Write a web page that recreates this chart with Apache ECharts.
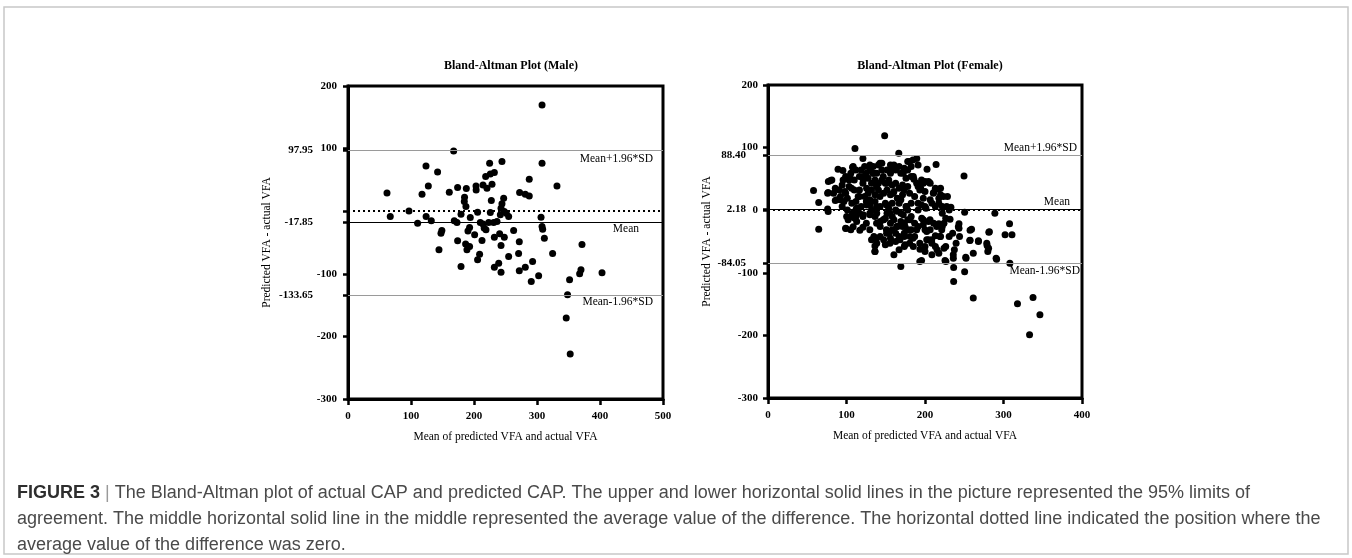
<!DOCTYPE html>
<html>
<head>
<meta charset="utf-8">
<title>Bland-Altman Plot</title>
<script src="https://cdn.jsdelivr.net/npm/echarts@6/dist/echarts.min.js"></script>
<style>
  html, body { margin: 0; padding: 0; background: #fff; }
  #chart { width: 1352px; height: 558px; }
</style>
</head>
<body>
<div id="chart"></div>
<script>
// [mean of predicted and actual VFA, predicted - actual VFA]
const malePoints = [
  [308,169.7],[167.7,96.3],[123.8,72.3],[142.2,62.8],[127.5,40.4],[117.5,27.1],[61.9,29.2],[67.1,-8.5],
  [96.8,0.5],[110.5,-19.2],[124,-8.5],[132.2,-15.4],[147.6,-35.1],[149,-31],[144.4,-61.7],[160.8,30.3],
  [174,37.7],[187.8,36.1],[203.2,40.4],[203.4,34],[214.3,42],[220.6,36.7],[218.5,55.3],[225.9,59.5],
  [232.3,61.7],[228.6,43],[224.8,76.6],[244.4,79.2],[185,22.4],[187.2,7.4],[184.6,15.3],[179.4,-4.8],
  [168.7,-15.4],[173,-18],[194.1,-10],[193,-26],[201,-37.6],[205.7,-1.6],[210,-18],[214.3,-20.6],
  [219,-29.7],[212.7,-46.9],[227.5,17],[225.9,-2.1],[223.3,-18],[231.2,-18],[236.5,-16.5],[241.8,-5.8],
  [244.4,11.8],[247.1,20.8],[248.1,-0.5],[251.3,-3.2],[255,-8.5],[240.7,-36],[232.3,-41.8],[248.1,-41.8],
  [242.9,-54.9],[174,-47.4],[186.7,-52.2],[193,-56.5],[188.8,-61.7],[208.9,-68.6],[205.7,-77.7],[179.4,-88.4],
  [232.3,-89.5],[239.2,-83.1],[242.9,-97.4],[255,-72.4],[262.9,-31],[271.9,-49],[270.8,-67.7],[271.9,-95.3],
  [281.4,-89.5],[293,-80.4],[290.9,-112.3],[302.6,-103.2],[272.4,29.7],[281.4,27],[287.7,24.4],[287.7,50.9],
  [308,76.6],[331.7,40.4],[306.4,-9.6],[308,-24.5],[309,-28.7],[311.7,-43.1],[324.8,-67.7],[371.4,-53.3],
  [369.8,-93.7],[367.7,-100],[351.7,-109.6],[403.2,-98.4],[348.5,-133.5],[346.4,-170.7],[352.7,-228.2],
  [190.4,-31.6],[216.1,-27],[242.9,4.6]
];

const femalePoints = [
  [148.6,119.1],[110.8,98.4],[166.6,91],[120.9,82.4],[189.5,82.4],[180.4,77.7],[214.1,72.9],[202.6,65.4],
  [249.7,54.8],[89.2,65.4],[95.4,63.3],[107.7,68.6],[58,31.4],[64.6,12.2],[64.6,-30.3],[76,27.1],
  [76.9,45.7],[81.3,48.4],[76,2.1],[90.8,32.4],[85.7,15.4],[98.9,27.1],[100.2,-10.1],[98.9,-28.7],
  [105.5,-31.4],[113,-18.1],[120.9,-27.1],[112,0.5],[106.8,11.2],[134.9,-42],[136.3,-66],[149.5,-55.3],
  [160.4,-71.3],[169.2,-89.9],[162.6,-50],[173.6,-58],[186.8,-42],[193.4,-81.9],[195.6,-80.3],[200,-66],
  [208.8,-71.3],[213.2,-58],[219.8,-42],[222,-26.1],[235.2,-36.7],[237.4,-63.3],[236,-71.3],[225.5,-80.3],
  [236.5,-91.5],[236.5,-113.8],[250.5,-98.4],[251.9,-75],[261.5,-68.6],[261.5,-140.4],[257.1,-48.4],[259.3,-30.3],
  [268.1,-48.9],[279.1,-56.4],[280,-66],[281.3,-35.1],[291.2,-78.2],[289,-4.8],[250.5,-3.2],[243.3,-21.8],
  [243.3,-28.7],[307.7,-21.8],[302,-39.4],[310.8,-39.4],[308.1,-84.6],[317.8,-149.5],[337.6,-139.4],[346.4,-167],
  [333.2,-198.9],[230.8,0.5],[233,4.8],[228.6,21.8],[217.6,19.1],[219.8,35.1],[211,28.2],[204.4,45.7],
  [197.8,43.1],[193.4,32.4],[185.9,49.5],[182.4,69.7],[182.4,53.7],[175.8,51.1],[191.2,11.2],[195.6,8.5],
  [200,5.9],[204.4,-18.1],[211,-20.7],[217.6,-21.8],[206.6,-31.4],[213.2,-41],[224.2,-20.7],[197.8,-15.4],
  [191.2,-26.1],[182.4,-31.4],[178,-15.4],[171.4,-26.1],[164.8,-26.1],[156,-20.7],[150.8,-31.4],[142.9,-42],
  [142.9,-26.1],[136.3,-10.1],[129.7,-4.8],[149.5,-12.8],[158.2,-10.1],[169.2,-4.8],[178,0.5],[173.6,-42],
  [180.4,-52.7],[156,-44.7],[167,-63.3],[175.8,5.9],
  [116.5,32.4],[120.9,43.1],[125.3,59],[129.7,64.4],[134,69.7],[140.7,72.3],[145,75],[138.5,59],
  [145,64.4],[151.6,64.4],[156,59],[162.6,64.4],[169.2,59],[173.6,67],[116.5,53.7],[109.9,48.4],
  [103.3,48.4],[103.3,37.8],[109.9,32.4],[116.5,21.8],[123.1,21.8],[127.5,27.1],[131.9,43.1],[136.3,48.4],
  [140.7,43.1],[145,48.4],[149.5,43.1],[153.8,48.4],[158.2,40.4],[162.6,43.1],[167,35.1],[171.4,40.4],
  [131.9,32.4],[136.3,24.5],[140.7,32.4],[147.3,27.1],[151.6,32.4],[156,24.5],[160.4,29.8],[164.8,19.1],
  [171.4,24.5],[125.3,13.8],[129.7,8.5],[136.3,13.8],[142.9,5.9],[149.5,11.2],[153.8,3.2],[158.2,11.2],
  [162.6,0.5],[167,11.2],[118.7,5.9],[112,13.8],[101.1,19.1],[96.7,13.8],[92.3,21.8],[131.9,0.5],
  [138.5,-4.8],[191.2,0.5],[182.4,11.2],[186.8,21.8],[180.4,27.1],[191.2,37.8],[200,29.8],[206.6,16.5],
  [213.2,5.9],[222,-4.8],[226.4,-12.8],[178,37.8],[173.6,32.4],[169.2,16.5],[151.6,-4.8],[160.4,-15.4],
  [169.2,-18.1],[173.6,-20.7],[182.4,-10.1],[186.8,-20.7],[200,-31.4],[204.4,-47.3],[208.8,-52.7],[215.4,-63.3],
  [217.6,-68.6],[226.4,-58],[239.6,-52.7],[244,-42],[230.8,-42],[173.6,-36.7],[167,-42],[184.6,-44.7],
  [193.4,-52.7],[200,-58],[202.2,-47.3],[178,-31.4],[120.9,-10.1],[125.3,-20.7],[129.7,-31.4],[131.9,-47.3],
  [138.5,-52.7],[147.3,-47.3],[153.8,-36.7],[158.2,-31.4],[162.6,-36.7],[147.3,-15.4],[142.9,-18.1],[116.5,-4.8],
  [112,-10.1],[107.7,-4.8],[101.1,0.5],[94.5,5.9],[83.5,27.1],[85.7,35.1],[94.5,40.4],[98.9,53.7],
  [105.5,59],[112,64.4],[118.7,64.4],[123.1,69.7],[134,59],[127.5,51.1],[120.9,53.7],[156,72.3],
  [160.4,72.3],[167,69.7],[178,64.4],[178,77.7],[184.6,80.3],[191.2,72.3],[195.6,48.4],[206.6,43.1],
  [213.2,35.1],[219.8,24.5],[208.8,11.2],[217.6,11.2],[222,5.9],
  [79.6,47.3],[76.6,28.1],[76.6,-2.2],[87.3,16.5],[99.2,-29.3],[108.5,-26.6],[117,-31.9],[104.3,-11.2],
  [138.3,-44.7],[136.2,-57],[136.2,-66],[224.2,-60.6],[236.1,-76.6],[226.6,-81.9],[252.3,-76.6],[268,-50],
  [257.4,-32],[242.5,-26.6],[257.4,-48],[282,-34.6],[281,-60.6],[290.6,-76.6],[278.7,-52.7],[231.9,-14.4],
  [227.7,5.8],[223.4,21.8],[217,33.5],[210.6,27.1],[205.5,44.1],[200,45.7],[194.5,35.1],[189.4,43.1],
  [185.1,53.7],[172.3,59],[197.8,19.1],[201.2,3.2],[195.8,-12.8],[197.8,-23.4],[206.4,-15.4],[214.9,-26.1],
  [221.3,-31.4],[219.1,-42],[208.5,-47.3],[202.2,-34.1],[189.4,-31.4],[180.9,-42],[168.1,-47.3],[174.5,-55.3],
  [185.1,-58],[193.6,-62.2],[155.3,-52.7],[151.1,-36.7],[163.9,-26.1],[174.5,-26.1],[180.9,-15.4],[172.3,-7.4],
  [163.9,-1.6],[155.3,-4.8],[146.8,-15.4],[138.3,-20.7],[129.8,-7.4],[121.3,-7.4],[112.8,3.2],[102.1,-15.4],
  [110.6,-12.8],[91.5,16.5],[97.9,29.8],[95.7,48.4],[104.3,53.7],[108.5,69.7],[129.8,72.3],[142.6,75],
  [155.3,64.4],[146.8,53.7],[134,59],[121.3,48.4],[125.6,35.1],[138.3,37.8],[151.1,43.1],[159.5,27.1],
  [142.6,21.8],[129.8,16.5],[114.9,21.8],[106.4,35.1],[168.1,16.5],[176.6,5.8],[151.1,8.5],[138.3,5.8],
  [125.6,8.5]
];

// upper limit, mean difference, lower limit
const maleLimits = [97.95, -17.85, -133.65];
const femaleLimits = [88.40, 2.18, -84.05];

const yTicks = [-300, -200, -100, 0, 100, 200];
const maleYLabels = [-300, -200, -100, 100, 200];
const femaleYLabels = [-300, -200, -100, 0, 100, 200];

const titles = ['Bland-Altman Plot (Male)', 'Bland-Altman Plot (Female)'];
const xName = 'Mean of predicted VFA and actual VFA';
const yName = 'Predicted VFA - actual VFA';
const limitNames = ['Mean+1.96*SD', 'Mean', 'Mean-1.96*SD'];

const caption =
  '{b|FIGURE 3} {s||} The Bland-Altman plot of actual CAP and predicted CAP. The upper and lower horizontal solid lines in the picture represented the 95% limits of\n' +
  'agreement. The middle horizontal solid line in the middle represented the average value of the difference. The horizontal dotted line indicated the position where the\n' +
  'average value of the difference was zero.';

const serif = '"Liberation Serif", "Times New Roman", serif';
const sans = '"Liberation Sans", Arial, Helvetica, sans-serif';

function xAxisFor(gridIndex, max) {
  return {
    type: 'value', gridIndex: gridIndex, min: 0, max: max, interval: 100,
    name: xName, nameLocation: 'middle', nameGap: 32,
    nameTextStyle: { fontFamily: serif, fontSize: 11.5, color: '#000' },
    axisLine: { show: true, onZero: false, lineStyle: { color: '#000', width: 3 } },
    axisTick: { show: true, length: 6, lineStyle: { color: '#000', width: 2.5 } },
    axisLabel: { fontFamily: serif, fontWeight: 'bold', fontSize: 11, color: '#000', margin: 12 },
    splitLine: { show: false }
  };
}

function yAxisFor(gridIndex, limits, labels, nameGap, margin) {
  return {
    type: 'value', gridIndex: gridIndex, min: -300, max: 200, interval: 100, position: 'left',
    name: yName, nameLocation: 'middle', nameRotate: 90, nameGap: nameGap,
    nameTextStyle: { fontFamily: serif, fontSize: 11.5, color: '#000' },
    axisLine: { show: true, onZero: false, lineStyle: { color: '#000', width: 3 } },
    axisTick: { show: true, length: 5, customValues: yTicks.concat(limits), lineStyle: { color: '#000', width: 2.5 } },
    axisLabel: { customValues: labels, fontFamily: serif, fontWeight: 'bold', fontSize: 11, color: '#000', margin: margin },
    splitLine: { show: false }
  };
}

// second axis on the same side, only for the limit values
function limitAxisFor(gridIndex, limits, margin) {
  return {
    type: 'value', gridIndex: gridIndex, min: -300, max: 200, position: 'left', offset: 0,
    axisLine: { show: false }, axisTick: { show: false }, splitLine: { show: false },
    axisLabel: {
      customValues: limits, formatter: function (v) { return v.toFixed(2); },
      fontFamily: serif, fontWeight: 'bold', fontSize: 11, color: '#000', margin: margin
    }
  };
}

function limitLines(limits, labelPos) {
  const styles = [
    { color: '#9a9a9a', width: 1, type: 'solid' },
    { color: '#000', width: 1, type: 'solid' },
    { color: '#9a9a9a', width: 1, type: 'solid' }
  ];
  const lines = limits.map(function (v, i) {
    return {
      yAxis: v,
      lineStyle: styles[i],
      label: {
        show: true, formatter: limitNames[i], position: labelPos[i].pos,
        distance: labelPos[i].dist, padding: [0, labelPos[i].pad, 0, 0],
        fontFamily: serif, fontSize: 11.5, color: '#000'
      }
    };
  });
  lines.push({ yAxis: 0, lineStyle: { color: '#000', width: 2, type: [2, 3] }, label: { show: false } });
  return lines;
}

const maleLabelPos = [
  { pos: 'insideEndBottom', dist: 3, pad: 7 },
  { pos: 'insideEndBottom', dist: 1, pad: 23 },
  { pos: 'insideEndBottom', dist: 1, pad: 9 }
];
const femaleLabelPos = [
  { pos: 'insideEndTop', dist: 1, pad: 4 },
  { pos: 'insideEndTop', dist: 1, pad: 11 },
  { pos: 'insideEndBottom', dist: 2, pad: 0 }
];

const chart = echarts.init(document.getElementById('chart'));

const option = {
  backgroundColor: '#fff',
  animation: false,
  title: [
    { text: titles[0], left: 506, top: 55, textAlign: 'center',
      textStyle: { fontFamily: serif, fontWeight: 'bold', fontSize: 12, color: '#000' } },
    { text: titles[1], left: 925, top: 55, textAlign: 'center',
      textStyle: { fontFamily: serif, fontWeight: 'bold', fontSize: 12, color: '#000' } }
  ],
  grid: [
    { left: 348, top: 86, width: 315, height: 313, show: true, borderColor: '#000', borderWidth: 3 },
    { left: 768, top: 85, width: 314, height: 313, show: true, borderColor: '#000', borderWidth: 3 }
  ],
  xAxis: [xAxisFor(0, 500), xAxisFor(1, 400)],
  yAxis: [
    yAxisFor(0, maleLimits, maleYLabels, 75, 11),
    limitAxisFor(0, maleLimits, 35),
    yAxisFor(1, femaleLimits, femaleYLabels, 55, 10),
    limitAxisFor(1, femaleLimits, 22)
  ],
  series: [
    {
      type: 'scatter', xAxisIndex: 0, yAxisIndex: 0, data: [], z: 1, silent: true,
      markLine: { symbol: ['none', 'none'], silent: true, data: limitLines(maleLimits, maleLabelPos) }
    },
    {
      type: 'scatter', xAxisIndex: 0, yAxisIndex: 0, data: malePoints, z: 3,
      symbol: 'circle', symbolSize: 7, itemStyle: { color: '#000', opacity: 1 }
    },
    {
      type: 'scatter', xAxisIndex: 1, yAxisIndex: 2, data: [], z: 1, silent: true,
      markLine: { symbol: ['none', 'none'], silent: true, data: limitLines(femaleLimits, femaleLabelPos) }
    },
    {
      type: 'scatter', xAxisIndex: 1, yAxisIndex: 2, data: femalePoints, z: 3,
      symbol: 'circle', symbolSize: 7, itemStyle: { color: '#000', opacity: 1 }
    }
  ],
  graphic: [
    { type: 'rect', silent: true, shape: { x: 4, y: 7, width: 1344, height: 547 },
      style: { fill: 'none', stroke: '#c8c8c8', lineWidth: 1.5 } },
    { type: 'text', left: 17, top: 480, silent: true,
      style: {
        text: caption, font: '18px ' + sans, fill: '#4a4a4a', lineHeight: 26,
        rich: {
          b: { fontWeight: 'bold', fill: '#2e2e2e', fontSize: 18, fontFamily: sans, lineHeight: 26 },
          s: { fill: '#9a9a9a', fontSize: 18, fontFamily: sans, lineHeight: 26 }
        }
      } }
  ]
};

chart.setOption(option);
window.addEventListener('resize', chart.resize);
</script>
</body>
</html>
